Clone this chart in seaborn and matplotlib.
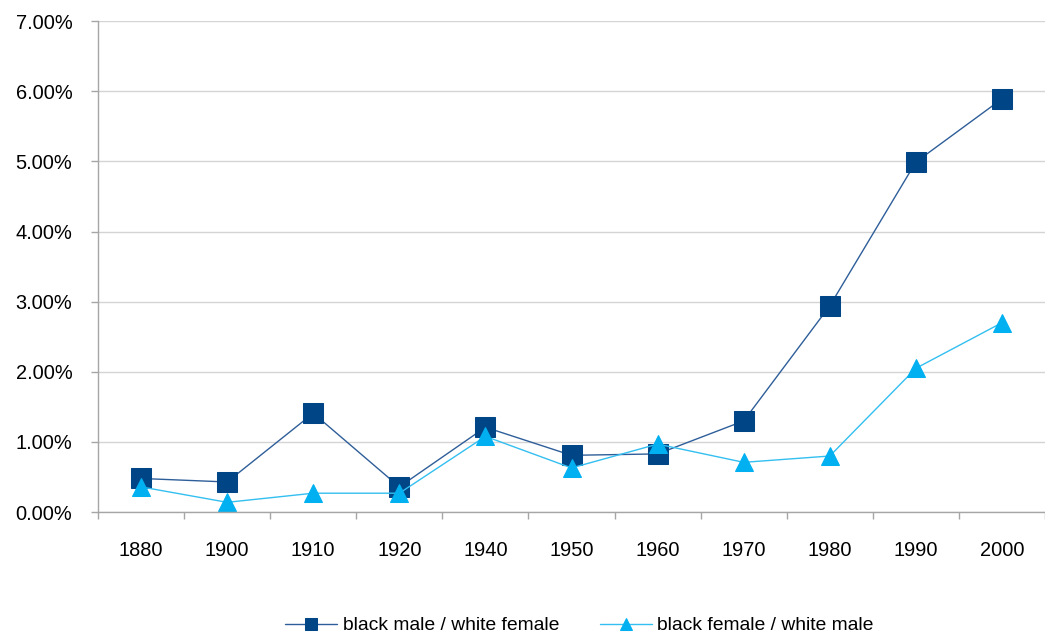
import matplotlib
matplotlib.use("Agg")
import matplotlib.pyplot as plt
import seaborn as sns
import pandas as pd
import numpy as np
from matplotlib.ticker import FuncFormatter, FixedLocator

years = ["1880", "1900", "1910", "1920", "1940", "1950", "1960", "1970", "1980", "1990", "2000"]
bm_wf = [0.48, 0.43, 1.41, 0.36, 1.21, 0.81, 0.83, 1.30, 2.94, 4.99, 5.89]
bf_wm = [0.36, 0.14, 0.27, 0.27, 1.08, 0.63, 0.97, 0.71, 0.80, 2.05, 2.70]

sns.set_style("white")
plt.rcParams['font.family'] = ['Liberation Sans', 'DejaVu Sans']
plt.rcParams['text.color'] = 'black'
plt.rcParams['xtick.labelcolor'] = 'black'
plt.rcParams['ytick.labelcolor'] = 'black'

df = pd.DataFrame({"pos": np.arange(len(years)), "bm_wf": bm_wf, "bf_wm": bf_wm})

fig = plt.figure(figsize=(10.45, 6.37), dpi=100)
ax = fig.add_axes([0.0938, 0.196, 0.9062, 0.771])

sns.lineplot(data=df, x="pos", y="bm_wf", ax=ax, color="#2E5E99", linewidth=1,
             marker="s", markersize=14, markerfacecolor="#004586", markeredgecolor="#004586",
             label="black male / white female")
sns.lineplot(data=df, x="pos", y="bf_wm", ax=ax, color="#33BFF0", linewidth=1,
             marker="^", markersize=13, markerfacecolor="#00B0F0", markeredgecolor="#00B0F0",
             label="black female / white male")

ax.set_xlim(-0.5, len(years) - 0.5)
ax.set_ylim(0, 7)
ax.set_yticks(np.arange(0, 8, 1))
ax.yaxis.set_major_formatter(FuncFormatter(lambda v, p: f"{v:.2f}%"))
ax.set_xticks(np.arange(len(years)))
ax.set_xticklabels(years)
ax.xaxis.set_minor_locator(FixedLocator(np.arange(-0.5, len(years), 1)))
ax.tick_params(axis="x", which="major", length=0, pad=21, labelsize=14.4, labelcolor="black")
ax.tick_params(axis="x", which="minor", length=5, color="#A6A6A6", width=1, bottom=True)
ax.tick_params(axis="y", length=5, color="#A6A6A6", width=1, left=True, labelsize=14.4, pad=13.5,
               labelcolor="black")
ax.grid(axis="y", color="#D4D4D4", linewidth=1)
ax.set_axisbelow(True)
ax.set_xlabel("")
ax.set_ylabel("")
for s in ["top", "right"]:
    ax.spines[s].set_visible(False)
for s in ["left", "bottom"]:
    ax.spines[s].set_color("#A6A6A6")
    ax.spines[s].set_linewidth(1)

ax.legend(loc="center", bbox_to_anchor=(0.5545, 0.018), bbox_transform=fig.transFigure,
          ncol=2, frameon=False, fontsize=13.85, markerscale=0.65, handlelength=2.7,
          handletextpad=0.3, columnspacing=2.1, labelcolor="black")

fig.savefig("out.png", dpi=100)
